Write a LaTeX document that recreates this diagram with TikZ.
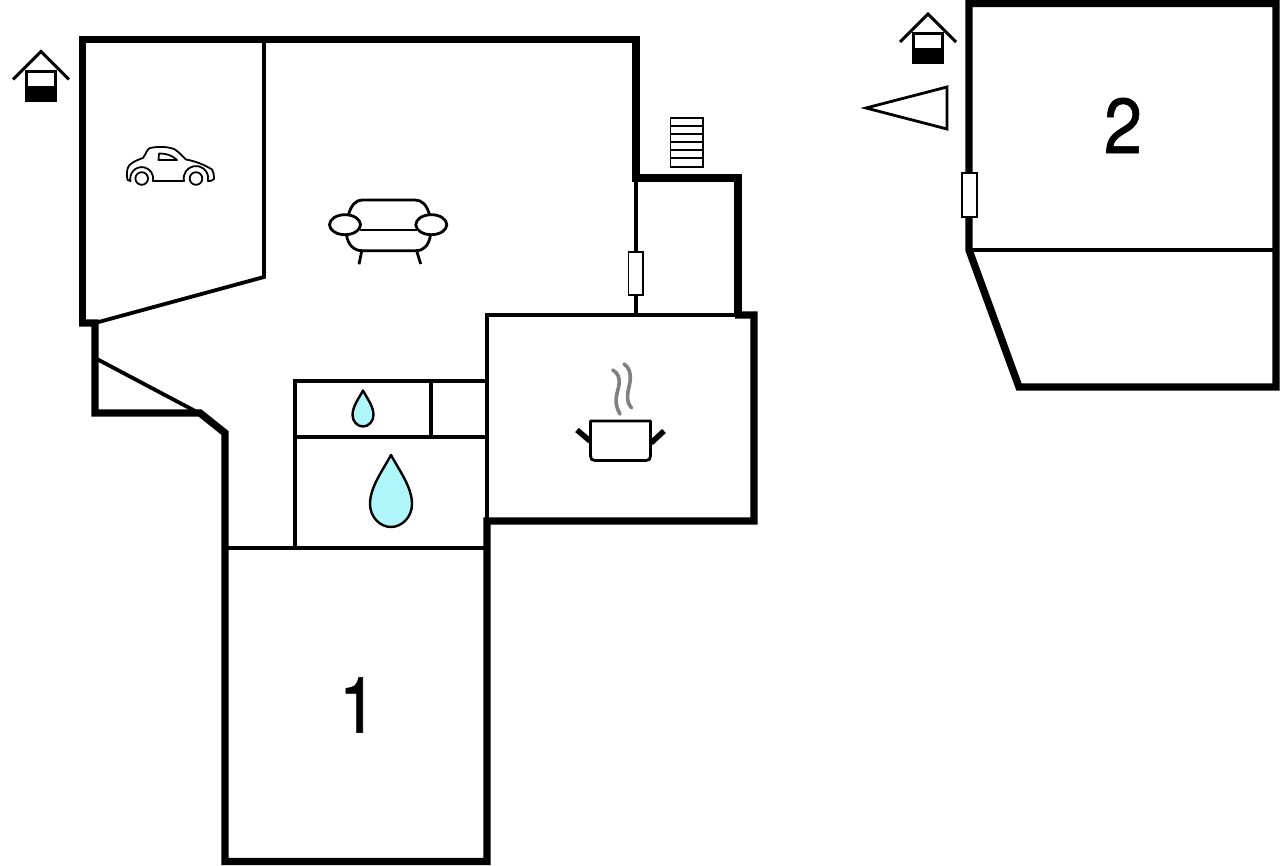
\documentclass[tikz,border=0pt]{standalone}
\usepackage{fontspec}
\newfontfamily\numfont[FakeBold=0.8,FakeStretch=0.88]{TeX Gyre Heros}
\definecolor{dropblue}{HTML}{AEF6FA}
\begin{document}
\begin{tikzpicture}[
    x=1pt,y=-1pt,
    wall/.style = {line width=7.4pt,line join=miter},
    inner/.style = {line width=3.8pt},
    outline/.style = {line width=1.8pt,line join=round},
    symbol/.style = {line width=2.8pt,line join=round},
    winbox/.style = {draw,line width=1.5pt,fill=white},
    roomnum/.style = {font=\numfont\fontsize{78}{78}\selectfont,inner sep=0pt},
    houseicon/.pic = {
      \draw[line width=3pt] (-28,28.5) -- (0,0.5) -- (28,28.5);
      \fill (-16,19) rectangle (16,51);
      \fill[white] (-13,22) rectangle (13,35);
    },
    waterdrop/.pic = {
      \draw[line width=2.4pt,line join=round,fill=dropblue] (0,0)
        .. controls (-8,15) and (-21,32) .. (-21,49)
        .. controls (-21,62) and (-11,72) .. (0,72)
        .. controls (11,72) and (21,62) .. (21,49)
        .. controls (21,32) and (8,15) .. (0,0) -- cycle;
    }
  ]
  \useasboundingbox (0,0) rectangle (1280,866);

  % Inner walls, house 1
  \draw[inner] (636,178) -- (636,315);
  \draw[inner] (487,315) -- (754,315);
  \draw[inner] (487,313) -- (487,521);
  \draw[inner] (264,39) -- (264,277) -- (95,323);
  \draw[inner] (95,358) -- (197,412);
  \draw[inner] (295,548) -- (295,381) -- (487,381);
  \draw[inner] (295,437) -- (487,437);
  \draw[inner] (431,381) -- (431,437);
  \draw[inner] (225,548) -- (487,548);
  % Outer walls, house 1
  \draw[wall] (82.5,325) -- (82.5,39.5) -- (636,39.5) -- (636,178) -- (738,178) -- (738,315);
  \draw[wall] (735,315) -- (754,315) -- (754,521) -- (487,521) -- (487,861.5)
    -- (225,861.5) -- (225,433) -- (200,413) -- (95,413) -- (95,323) -- (79,323);

  % House 2
  \draw[inner] (969,250) -- (1276,250);
  \draw[wall] (969,250) -- (969,3.5) -- (1276,3.5) -- (1276,387) -- (1019,387) -- cycle;

  % Windows
  \draw[winbox] (628.5,252) rectangle (643,295);
  \draw[winbox] (962,173) rectangle (977,217);

  % Stairs
  \draw[line width=1.5pt] (670.5,118) rectangle (703,167);
  \foreach \y in {126,134,142,150,158}
    \draw[line width=1.5pt] (670.5,\y) -- (703,\y);

  % Entrance marks
  \pic at (41,51) {houseicon};
  \pic at (928,13.5) {houseicon};

  % North triangle
  \draw[line width=2.8pt,line join=miter] (866,108) -- (947,87) -- (947,129) -- cycle;

  % Car
  \draw[outline] (130.5,181) -- (127.5,180) .. controls (126,174) and (127,168) .. (129.5,165)
    .. controls (134,161) and (140,159) .. (143,158)
    .. controls (146,154) and (147,149) .. (150,148)
    .. controls (160,146) and (170,147) .. (175,149.5)
    .. controls (180,153) and (183,157) .. (186,159.5)
    .. controls (195,161) and (205,165) .. (212,169.5)
    .. controls (214,173) and (214,177) .. (214,179)
    .. controls (213,181) and (210,181) .. (208,181)
    arc[start angle=12.7,end angle=-192.7,radius=12.3]
    -- (153,181)
    arc[start angle=12,end angle=-192,radius=11.5] -- cycle;
  \draw[outline] (141.7,178.5) circle[radius=6.3];
  \draw[outline] (196,178.5) circle[radius=6.3];
  \draw[outline] (158.5,160) -- (159,153.5) .. controls (166,153.5) and (172,155) .. (177,160) -- cycle;

  % Sofa
  \draw[symbol] (348.5,215) .. controls (351,205) and (356,200) .. (362,200)
    -- (415,200) .. controls (422,200) and (427,205) .. (429.5,215);
  \draw[symbol] (345,224.7) circle[x radius=15.5,y radius=10];
  \draw[symbol] (431.3,224.7) circle[x radius=15.5,y radius=10];
  \draw[symbol] (360,230) -- (416.5,230);
  \draw[symbol] (346.5,235) .. controls (348,245) and (354,250.7) .. (362,250.7)
    -- (416,250.7) .. controls (424,250.7) and (429,245) .. (430.5,235);
  \draw[symbol] (361.7,251) -- (359,264.3);
  \draw[symbol] (416.7,251) -- (420.7,264);

  % Pot
  \draw[symbol] (590.5,421) -- (650.5,421) -- (650.5,456)
    .. controls (650.5,459) and (649,460.5) .. (646,460.5) -- (595,460.5)
    .. controls (592,460.5) and (590.5,459) .. (590.5,456) -- cycle;
  \draw[line width=5.5pt] (577,430) -- (590,441);
  \draw[line width=5.5pt] (664,431) -- (651,443);
  \draw[gray,line width=3.6pt,line cap=round] (612.7,370) .. controls (618,373) and (620,378) .. (619,385)
    .. controls (617,395) and (613,402) .. (620,414);
  \draw[gray,line width=3.6pt,line cap=round] (624,364) .. controls (629,367) and (631,373) .. (630,382)
    .. controls (628,392) and (625,400) .. (631.5,408);

  % Water marks
  \pic at (391,455) {waterdrop};
  \pic[scale=.5] at (363,390.5) {waterdrop};

  % Room numbers
  \node[roomnum] (numone) at (358,705) {1};
  \node[roomnum] (numtwo) at (1123,125.5) {2};
\end{tikzpicture}
\end{document}
